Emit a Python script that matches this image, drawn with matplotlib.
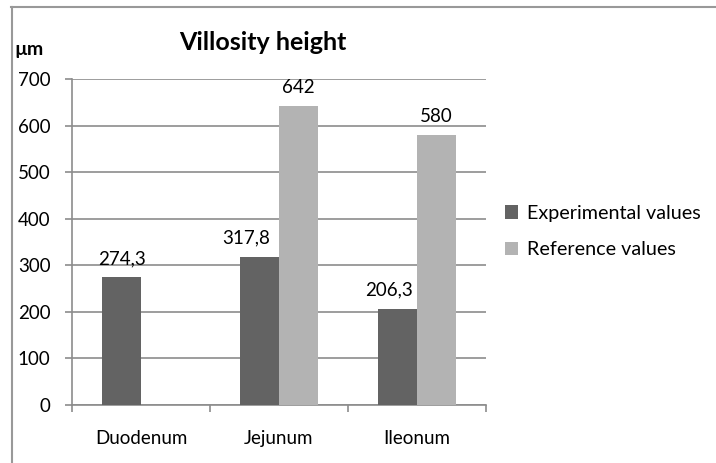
import numpy as np
import matplotlib
matplotlib.use("Agg")
import matplotlib.pyplot as plt
from matplotlib.lines import Line2D

plt.rcParams['font.family'] = ['Lato', 'DejaVu Sans']

# data
categories = ['Duodenum', 'Jejunum', 'Ileonum']
experimental = [274.3, 317.8, 206.3]
reference = [np.nan, 642, 580]
exp_labels = ['274,3', '317,8', '206,3']
ref_labels = ['', '642', '580']
yticks = [0, 100, 200, 300, 400, 500, 600, 700]

# small nudges so labels don't crowd (like excel does)
exp_dx = [0, -0.1, -0.06]

dark = '#636363'
light = '#b3b3b3'
grid_col = '#8c8c8c'

fig = plt.figure(figsize=(7.16, 4.63), dpi=100)
ax = fig.add_axes([0.1006, 0.1253, 0.5782, 0.7041])

x = np.arange(len(categories))
w = 0.2826
b1 = ax.bar(x - w / 2, experimental, w, color=dark, label='Experimental values', zorder=3)
b2 = ax.bar(x + w / 2, reference, w, color=light, label='Reference values', zorder=3)

# value labels
for rects, labs, dxs in ((b1, exp_labels, exp_dx), (b2, ref_labels, [0, 0, 0])):
    for r, lab, dx in zip(rects, labs, dxs):
        if lab:
            ax.text(r.get_x() + r.get_width() / 2 + dx, r.get_height() + 22, lab,
                    ha='center', va='bottom', fontsize=13.5, color='black')

ax.set_xlim(-0.5, 2.5)
ax.set_ylim(0, 700)
ax.set_yticks(yticks)
ax.yaxis.grid(True, color=grid_col, lw=1.2, zorder=0)
ax.set_axisbelow(True)

ax.set_xticks(x)
ax.set_xticklabels(categories, fontsize=13.5)
ax.tick_params(axis='x', length=0, pad=18)
ax.set_xticks([-0.5, 0.5, 1.5, 2.5], minor=True)
ax.tick_params(axis='x', which='minor', length=5, color=grid_col, width=1.2)
ax.tick_params(axis='y', labelsize=13.5, length=5, color=grid_col, width=1.2, pad=10.5)

for s in ('top', 'right'):
    ax.spines[s].set_visible(False)
for s in ('left', 'bottom'):
    ax.spines[s].set_color(grid_col)
    ax.spines[s].set_linewidth(1.2)

fig.text(0.367, 0.908, 'Villosity height', ha='center', va='center',
         fontsize=18, fontweight='bold')
fig.text(0.02, 0.894, 'µm', ha='left', va='center', fontsize=14, fontweight='bold')

fig.legend(handles=[b1, b2], loc='center left', bbox_to_anchor=(0.68, 0.5),
           frameon=False, fontsize=14.2, handlelength=0.7, handleheight=0.7,
           handletextpad=0.45, labelspacing=1.0)

# outer chart frame (only top and left edges visible)
fig.add_artist(Line2D([11 / 716, 1], [1 - 6.5 / 463] * 2, color='#999999', lw=1.5,
                      transform=fig.transFigure))
fig.add_artist(Line2D([11.5 / 716] * 2, [0, 1 - 6.5 / 463], color='#999999', lw=1.5,
                      transform=fig.transFigure))

fig.savefig('out.png', dpi=100)
